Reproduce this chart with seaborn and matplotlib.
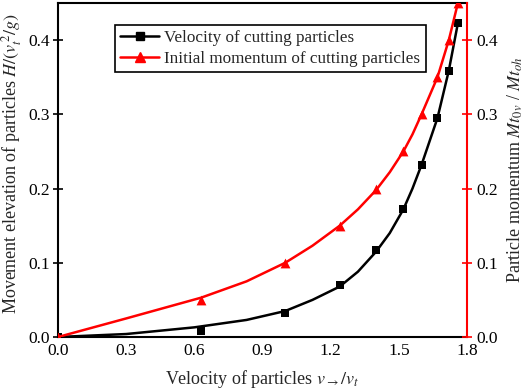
import matplotlib
matplotlib.use('Agg')
import matplotlib.pyplot as plt
from matplotlib.lines import Line2D
import seaborn as sns
import numpy as np

# marker data
vel_x = [0.0, 0.63, 1.0, 1.24, 1.40, 1.52, 1.60, 1.67, 1.72, 1.76]
elev_y = [0.0, 0.008, 0.032, 0.070, 0.117, 0.173, 0.232, 0.295, 0.359, 0.423]
mom_x = [0.0, 0.63, 1.0, 1.24, 1.40, 1.52, 1.60, 1.67, 1.72, 1.76]
mom_y = [0.0, 0.05, 0.10, 0.15, 0.20, 0.25, 0.30, 0.35, 0.40, 0.45]

# fitted curves, points
fit_elev_x = [0.0, 0.3, 0.6, 0.83, 1.0, 1.12, 1.24, 1.32, 1.40, 1.46, 1.52, 1.56, 1.60, 1.67, 1.72, 1.76]
fit_elev_y = [0.0, 0.004, 0.013, 0.023, 0.035, 0.050, 0.068, 0.088, 0.115, 0.140, 0.172, 0.200, 0.232, 0.295, 0.359, 0.423]
fit_mom_x = [0.0, 0.3, 0.63, 0.83, 1.0, 1.12, 1.24, 1.32, 1.40, 1.46, 1.52, 1.56, 1.60, 1.67, 1.72, 1.76]
fit_mom_y = [0.0, 0.025, 0.053, 0.075, 0.100, 0.123, 0.150, 0.172, 0.198, 0.222, 0.250, 0.273, 0.300, 0.350, 0.400, 0.450]

x_ticks = [0.0, 0.3, 0.6, 0.9, 1.2, 1.5, 1.8]
y_ticks = [0.0, 0.1, 0.2, 0.3, 0.4]
legend_labels = ['Velocity of cutting particles', 'Initial momentum of cutting particles']

sns.set_style('white')
plt.rcParams['font.family'] = ['Liberation Serif', 'DejaVu Serif']
plt.rcParams['mathtext.fontset'] = 'stix'

fig = plt.figure(figsize=(5.26, 3.9), dpi=100)
ax = fig.add_axes([58 / 526, 1 - 337 / 390, 409 / 526, 334 / 390])
ax2 = ax.twinx()

# smooth lines
sns.lineplot(x=fit_elev_x, y=fit_elev_y, ax=ax, color='black', linewidth=1.8, legend=False)
sns.lineplot(x=fit_mom_x, y=fit_mom_y, ax=ax2, color='red', linewidth=1.8, legend=False)
# markers
sns.scatterplot(x=vel_x, y=elev_y, ax=ax, color='black', marker='s', s=36,
                edgecolor='black', linewidth=0, legend=False, zorder=3)
sns.scatterplot(x=mom_x, y=mom_y, ax=ax2, color='red', marker='^', s=50,
                edgecolor='red', linewidth=0, legend=False, zorder=3)

ax.set_xlim(0, 1.8)
ax.set_ylim(0, 0.45)
ax2.set_ylim(0, 0.45)
ax.set_xticks(x_ticks)
ax.set_xticklabels([f'{t:.1f}' for t in x_ticks])
ax.set_yticks(y_ticks)
ax.set_yticklabels([f'{t:.1f}' for t in y_ticks])
ax2.set_yticks(y_ticks)
ax2.set_yticklabels([f'{t:.1f}' for t in y_ticks])

for s in ['left', 'bottom', 'top']:
    ax.spines[s].set_color('black')
    ax.spines[s].set_linewidth(1.5)
    ax2.spines[s].set_visible(False)
ax.spines['right'].set_visible(False)
ax2.spines['right'].set_color('red')
ax2.spines['right'].set_linewidth(1.5)

ax.tick_params(axis='x', direction='in', length=5, width=1.2, labelsize=12.5, pad=4, colors='black')
ax.tick_params(axis='y', direction='inout', length=7, width=1.2, labelsize=12.5, pad=2, colors='black')
ax2.tick_params(axis='y', direction='inout', length=7, width=1.2, labelsize=12.5, pad=3,
                color='red', labelcolor='black')

ax.set_xlabel(r'Velocity of particles $v_{\rightarrow}/v_t$', fontsize=13, labelpad=7)
ax.set_ylabel(r'Movement elevation of particles $H/(v_t^{\,2}/g)$', fontsize=13)
ax.yaxis.set_label_coords(-0.082, 0.52)
ax2.set_ylabel(r'Particle momentum $Mt_{0v}$ / $Mt_{oh}$', fontsize=13, labelpad=6)

handles = [
    Line2D([], [], color='black', marker='s', markersize=6, linewidth=1.8),
    Line2D([], [], color='red', marker='^', markersize=7, linewidth=1.8),
]
leg = ax2.legend(handles, legend_labels, loc='upper left', bbox_to_anchor=(0.139, 0.934),
                 fontsize=12.3, frameon=True, fancybox=False, framealpha=1,
                 handlelength=2.3, borderpad=0.3, labelspacing=0.3, handletextpad=0.3,
                 borderaxespad=0)
leg.get_frame().set_edgecolor('black')
leg.get_frame().set_linewidth(1.2)

fig.savefig('out.png', dpi=100)
